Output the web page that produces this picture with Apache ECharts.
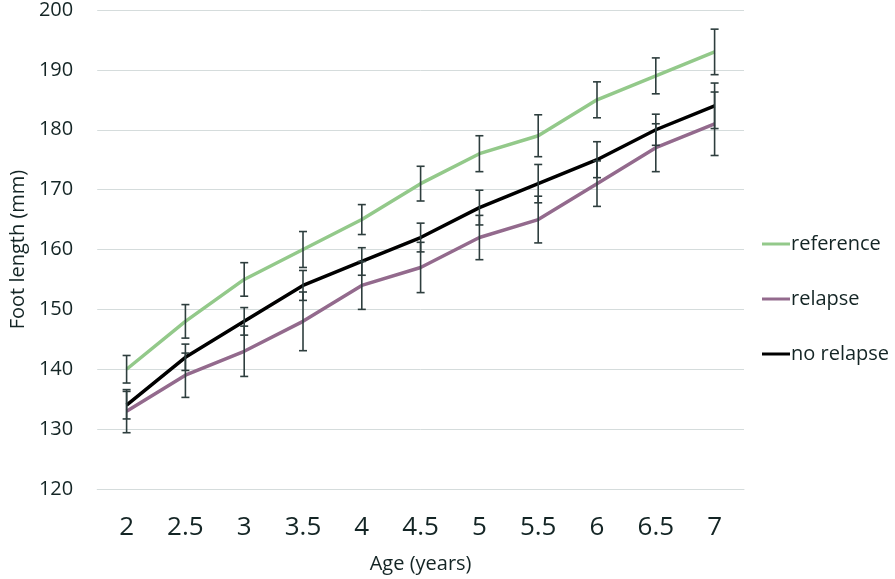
<!DOCTYPE html>
<html>
<head>
<meta charset="utf-8">
<script src="https://cdn.jsdelivr.net/npm/echarts@6/dist/echarts.min.js"></script>
<style>html,body{margin:0;padding:0;background:#fff;}#c{width:895px;height:579px;}</style>
</head>
<body>
<div id="c"></div>
<script>
const ages = ['2','2.5','3','3.5','4','4.5','5','5.5','6','6.5','7'];
const reference = [140, 148, 155, 160, 165, 171, 176, 179, 185, 189, 193];
const referenceErr = [2.3, 2.8, 2.8, 3.0, 2.5, 2.9, 3.0, 3.5, 3.0, 3.0, 3.8];
const relapse = [133, 139, 143, 148, 154, 157, 162, 165, 171, 177, 181];
const relapseErr = [3.6, 3.7, 4.2, 4.9, 4.0, 4.2, 3.7, 3.9, 3.8, 4.0, 5.3];
const noRelapse = [134, 142, 148, 154, 158, 162, 167, 171, 175, 180, 184];
const noRelapseErr = [2.3, 2.2, 2.3, 2.5, 2.3, 2.4, 2.9, 3.2, 3.0, 2.6, 3.8];

const FONT = '"Open Sans", "Noto Sans", sans-serif';
const TXT = '#142525';
const ERRC = '#2e3e3e';

function errSeries(vals, errs, z) {
  return {
    type: 'custom',
    z: z,
    silent: true,
    data: vals.map((v, i) => [i, v - errs[i], v + errs[i]]),
    renderItem: function (params, api) {
      const lo = api.coord([api.value(0), api.value(1)]);
      const hi = api.coord([api.value(0), api.value(2)]);
      const w = 4;
      const st = { stroke: ERRC, lineWidth: 1.6 };
      return {
        type: 'group',
        children: [
          { type: 'line', shape: { x1: lo[0], y1: lo[1], x2: hi[0], y2: hi[1] }, style: st },
          { type: 'line', shape: { x1: lo[0] - w, y1: lo[1], x2: lo[0] + w, y2: lo[1] }, style: st },
          { type: 'line', shape: { x1: hi[0] - w, y1: hi[1], x2: hi[0] + w, y2: hi[1] }, style: st }
        ]
      };
    }
  };
}

const chart = echarts.init(document.getElementById('c'));
chart.setOption({
  animation: false,
  backgroundColor: '#fff',
  grid: { left: 90, right: 151, top: 10, bottom: 89 },
  legend: {
    orient: 'vertical',
    left: 757,
    top: 229,
    itemGap: 35,
    itemWidth: 28,
    itemHeight: 3,
    icon: 'rect',
    textStyle: { fontFamily: FONT, fontSize: 20, color: TXT, padding: [0, 0, 0, -4] },
    data: ['reference', 'relapse', 'no relapse']
  },
  xAxis: {
    type: 'category',
    data: ages,
    boundaryGap: true,
    name: 'Age (years)',
    nameLocation: 'middle',
    nameGap: 65,
    nameTextStyle: { fontFamily: FONT, fontSize: 20, color: TXT },
    axisLine: { show: true, lineStyle: { color: '#d5dcdc', width: 1 } },
    axisTick: { show: false },
    axisLabel: { fontFamily: FONT, fontSize: 26, color: TXT, margin: 26 }
  },
  yAxis: {
    type: 'value',
    min: 120,
    max: 200,
    interval: 10,
    name: 'Foot length (mm)',
    nameLocation: 'middle',
    nameGap: 68,
    nameTextStyle: { fontFamily: FONT, fontSize: 20, color: TXT },
    axisLine: { show: false },
    axisTick: { show: false },
    axisLabel: { fontFamily: FONT, fontSize: 20, color: TXT, margin: 24 },
    splitLine: { lineStyle: { color: '#d5dcdc', width: 1 } }
  },
  series: [
    { name: 'reference', type: 'line', data: reference, symbol: 'none', z: 3,
      lineStyle: { color: '#93c98a', width: 3.5 }, itemStyle: { color: '#93c98a' } },
    { name: 'relapse', type: 'line', data: relapse, symbol: 'none', z: 3,
      lineStyle: { color: '#936a8d', width: 3.5 }, itemStyle: { color: '#936a8d' } },
    { name: 'no relapse', type: 'line', data: noRelapse, symbol: 'none', z: 3,
      lineStyle: { color: '#000000', width: 3.5 }, itemStyle: { color: '#000000' } },
    errSeries(reference, referenceErr, 5),
    errSeries(relapse, relapseErr, 5),
    errSeries(noRelapse, noRelapseErr, 5)
  ]
});
</script>
</body>
</html>
